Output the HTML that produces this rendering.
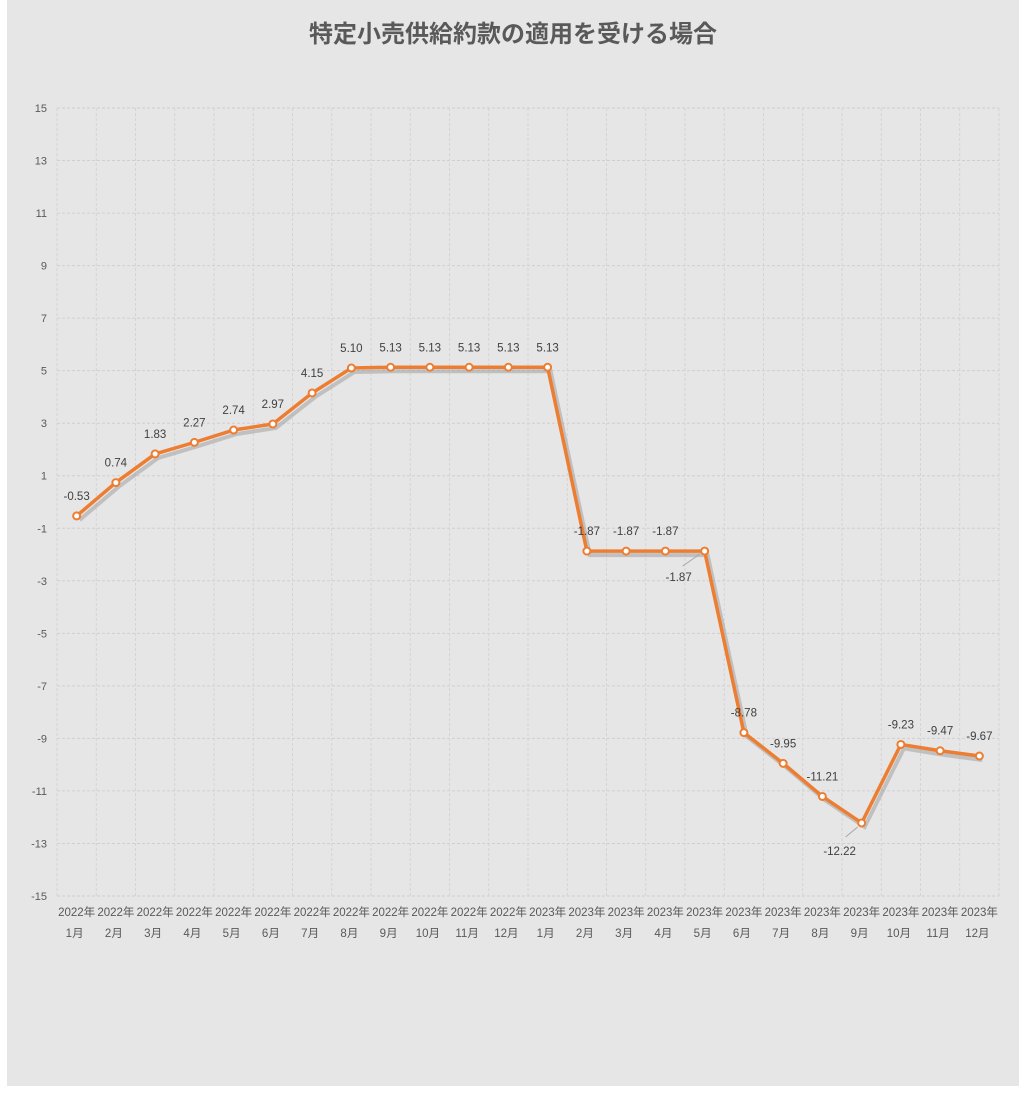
<!DOCTYPE html>
<html><head><meta charset="utf-8"><style>
body{margin:0;background:#fff;}
svg{display:block;font-family:"Liberation Sans","Noto Sans CJK JP",sans-serif;}
</style></head><body>
<svg id="c" width="1025" height="1097">
<rect x="7" y="0" width="1012" height="1086" fill="#e6e6e6"/>
<text x="513" y="42" text-anchor="middle" font-size="24" font-weight="bold" fill="#595959">特定小売供給約款の適用を受ける場合</text>
<g id="grid"></g><g id="axes"></g><g id="series"></g><g id="labels"></g>
</svg>
<script>
const categories=["2022年1月","2022年2月","2022年3月","2022年4月","2022年5月","2022年6月","2022年7月","2022年8月","2022年9月","2022年10月","2022年11月","2022年12月","2023年1月","2023年2月","2023年3月","2023年4月","2023年5月","2023年6月","2023年7月","2023年8月","2023年9月","2023年10月","2023年11月","2023年12月"];
const values=[-0.53,0.74,1.83,2.27,2.74,2.97,4.15,5.10,5.13,5.13,5.13,5.13,5.13,-1.87,-1.87,-1.87,-1.87,-8.78,-9.95,-11.21,-12.22,-9.23,-9.47,-9.67];
const labels=["-0.53","0.74","1.83","2.27","2.74","2.97","4.15","5.10","5.13","5.13","5.13","5.13","5.13","-1.87","-1.87","-1.87","-1.87","-8.78","-9.95","-11.21","-12.22","-9.23","-9.47","-9.67"];
const yTicks=[15,13,11,9,7,5,3,1,-1,-3,-5,-7,-9,-11,-13,-15];
const L=57,R=999,T=108,B=896,yMin=-15,yMax=15;
const bw=(R-L)/categories.length;
const X=i=>L+bw*(i+0.5);
const Y=v=>B-(v-yMin)/(yMax-yMin)*(B-T);
const NS="http://www.w3.org/2000/svg";
function mk(t,a,p){const e=document.createElementNS(NS,t);for(const k in a)e.setAttribute(k,a[k]);p.appendChild(e);return e;}
const grid=document.getElementById('grid'),axes=document.getElementById('axes'),ser=document.getElementById('series'),lab=document.getElementById('labels');
yTicks.forEach(v=>{
 const l=mk('line',{x1:L,x2:R,y1:Y(v),y2:Y(v),stroke:'#cfcfcf','stroke-dasharray':'3,2'},grid);
 
 
 const t=mk('text',{x:L-10,y:Y(v)+4,'text-anchor':'end','font-size':11,fill:'#595959'},axes);
 t.textContent=v;
 
 
});
for(let i=0;i<=categories.length;i++){
 const x=L+bw*i;
 const l=mk('line',{x1:x,x2:x,y1:T,y2:B,stroke:'#d4d4d4','stroke-dasharray':'3,2'},grid);
 
 
}
categories.forEach((c,i)=>{
 const m=c.match(/(\d+年)(\d+月)/);
 const t=mk('text',{x:X(i),y:B+20,'text-anchor':'middle','font-size':11.5,fill:'#595959'},axes);
 t.textContent=m[1];
 
 
 const t2=mk('text',{x:X(i)-2,y:B+41,'text-anchor':'middle','font-size':11.5,fill:'#595959'},axes);
 t2.textContent=m[2];
 
 
});
const pts=values.map((v,i)=>X(i)+','+Y(v)).join(' ');
const sh=mk('polyline',{points:values.map((v,i)=>(X(i)+3)+','+(Y(v)+4)).join(' '),fill:'none',stroke:'#9a9a9a','stroke-width':4,opacity:0.5},ser);


const pl=mk('polyline',{points:pts,fill:'none',stroke:'#ed7d31','stroke-width':3.5,'stroke-linejoin':'round'},ser);


values.forEach((v,i)=>{
 const c=mk('circle',{cx:X(i),cy:Y(v),r:3.5,fill:'#fff',stroke:'#ed7d31','stroke-width':2},ser);
 
 
 let lx=X(i),ly=Y(v)-16;
 if(i===16){lx=X(i)-26;ly=Y(v)+30;
  const ln=mk('line',{x1:X(i)-5,y1:Y(v)+3,x2:X(i)-22,y2:Y(v)+15,stroke:'#a6a6a6','stroke-width':1},lab);
  
  }
 if(i===20){lx=X(i)-22;ly=Y(v)+32;
  const ln=mk('line',{x1:X(i)-4,y1:Y(v)+4,x2:X(i)-16,y2:Y(v)+14,stroke:'#a6a6a6','stroke-width':1},lab);
  
  }
 const t=mk('text',{x:lx,y:ly,'text-anchor':'middle','font-size':11.5,fill:'#404040'},lab);
 t.textContent=labels[i];
 
 
});
</script>
</body></html>
